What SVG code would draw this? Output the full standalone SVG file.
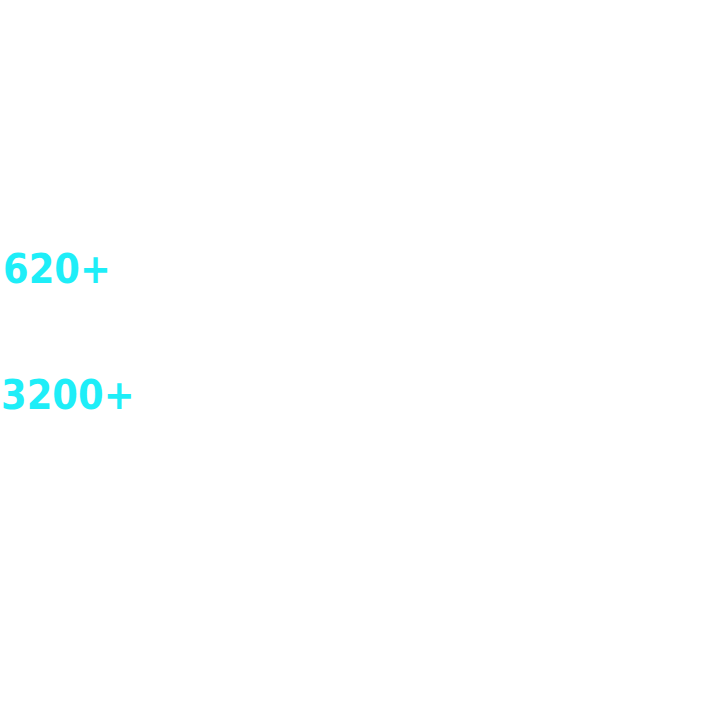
<svg xmlns="http://www.w3.org/2000/svg" width="720" height="715" viewBox="0 0 720 715">
<style>
.num{font-family:"DejaVu Sans Condensed","DejaVu Sans",sans-serif;font-stretch:condensed;font-weight:bold;font-size:41px;fill:#1eeef8}
</style>
<rect width="720" height="715" fill="#ffffff"/>
<g id="stat1"><text class="num" x="3" y="282.5">620+</text></g>
<g id="stat2"><text class="num" x="1" y="409">3200+</text></g>
</svg>
